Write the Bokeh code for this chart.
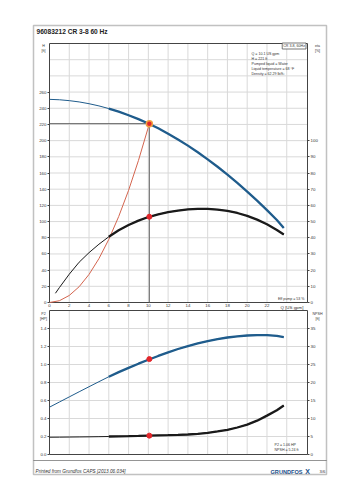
from bokeh.plotting import figure
from bokeh.models import Range1d, LinearAxis, FixedTicker, Label, BoxAnnotation, PrintfTickFormatter
from bokeh.embed import file_html
from bokeh.resources import INLINE

# ---------------- data ----------------
Q = [0, 1, 2, 3, 4, 5, 6, 7, 8, 9, 10, 11, 12, 13, 14, 15, 16, 17, 18, 19, 20, 21, 22, 23, 23.7]
H = [251, 250.5, 249.4, 247.8, 245.6, 242.9, 239.6, 235.8, 231.4, 226.5, 221.2, 215.2, 208.6,
     201.5, 193.8, 185.6, 176.9, 167.7, 158.0, 147.8, 137.1, 125.9, 114.2, 102.0, 92.0]
Q_eta = [0.6, 1, 2, 3, 4, 5, 6, 7, 8, 9, 10, 11, 12, 13, 14, 15, 16, 17, 18, 19, 20, 21, 22, 23, 23.7]
ETA = [5.7, 9.2, 17.5, 24.9, 30.8, 36.0, 40.6, 44.6, 47.9, 50.6, 52.8, 54.5, 55.8, 56.8, 57.5,
       57.8, 57.8, 57.4, 56.6, 55.3, 53.5, 51.2, 48.3, 44.8, 42.0]
P2 = [0.526, 0.583, 0.640, 0.697, 0.753, 0.809, 0.864, 0.915, 0.963, 1.009, 1.053, 1.095, 1.135,
      1.172, 1.205, 1.235, 1.260, 1.282, 1.300, 1.313, 1.322, 1.327, 1.327, 1.318, 1.305]
NPSH = [4.80, 4.82, 4.85, 4.88, 4.91, 4.95, 5.00, 5.05, 5.10, 5.16, 5.23, 5.30, 5.37, 5.45, 5.55,
        5.75, 6.00, 6.40, 6.85, 7.50, 8.30, 9.40, 10.8, 12.3, 13.6]
Q_sys = [0, 1, 2, 3, 4, 5, 6, 7, 8, 9, 10, 10.1]
H_sys = [0, 2.2, 8.7, 19.5, 34.7, 54.2, 78.0, 106.2, 138.6, 175.5, 216.7, 221.0]
Q_op, H_op, ETA_op, P2_op, NPSH_op = 10.1, 221, 53, 1.06, 5.24
Q_thick_from = 6.0

x_ticks = [0, 2, 4, 6, 8, 10, 12, 14, 16, 18, 20, 22]
x_grid = [2, 4, 6, 8, 10, 12, 14, 16, 18, 20, 22, 24]
h_ticks = [0, 20, 40, 60, 80, 100, 120, 140, 160, 180, 200, 220, 240, 260]
h_grid = [20, 40, 60, 80, 100, 120, 140, 160, 180, 200, 220, 240, 260, 280, 300]
eta_ticks = [0, 10, 20, 30, 40, 50, 60, 70, 80, 90, 100]
p2_ticks = [0, 0.2, 0.4, 0.6, 0.8, 1.0, 1.2, 1.4]
p2_grid = [0.2, 0.4, 0.6, 0.8, 1.0, 1.2, 1.4]
npsh_ticks = [0, 5, 10, 15, 20, 25, 30, 35]

Q_MAX, H_MAX, ETA_MAX, P2_MAX, NPSH_MAX = 26.1, 320, 160, 1.6, 40

# ---------------- page layout (pixels) ----------------
W, HT = 353, 500
X0, X1 = 49, 307          # chart left / right
UT, UB = 43, 302          # upper chart top / bottom
LT, LB = 310, 454         # lower chart top / bottom

FONT = "Liberation Sans"
BLUE = "#1f5c8c"
BLACK = "#1a1a1a"
RED = "#e3262b"
SYS = "#d4654f"
GRID = "#d9d9d9"
FRAME = "#444444"
THICK = 2.3


def xrange_px(v0, v1, p0, p1):
    s = (v1 - v0) / (p1 - p0)
    return Range1d(v0 - p0 * s, v0 + (W - p0) * s)


def yrange_px(v0, v1, pb, pt):
    s = (v1 - v0) / (pb - pt)
    return Range1d(v0 - (HT - pb) * s, v0 + pb * s)


p = figure(width=W, height=HT, output_backend="svg", toolbar_location=None,
           x_axis_location=None, y_axis_location=None, min_border=0,
           x_range=xrange_px(0, Q_MAX, X0, X1), y_range=yrange_px(0, H_MAX, UB, UT))
p.extra_y_ranges = {"eta": yrange_px(0, ETA_MAX, UB, UT),
                    "p2": yrange_px(0, P2_MAX, LB, LT),
                    "npsh": yrange_px(0, NPSH_MAX, LB, LT)}
p.grid.visible = False
p.outline_line_color = None
p.background_fill_color = "white"
p.border_fill_color = "white"


def style_axis(ax, ticks):
    ax.ticker = FixedTicker(ticks=ticks)
    ax.major_label_text_font = FONT
    ax.major_label_text_font_size = "4.4px"
    ax.major_label_text_color = "#333333"
    ax.axis_line_color = None
    ax.major_tick_line_color = FRAME
    ax.major_tick_out = 2
    ax.major_tick_in = 0
    ax.minor_tick_out = 0
    ax.minor_tick_in = 0
    ax.major_label_standoff = 1
    return ax


def txt(x, y, s, size, align="left", style="normal", color="#333333", **kw):
    p.add_layout(Label(x=x, y=y, x_units="canvas", y_units="canvas", text=s,
                       text_font=FONT, text_font_size=f"{size}px", text_align=align,
                       text_baseline="middle", text_font_style=style, text_color=color, **kw))


# ---------------- grids and chart frames ----------------
p.segment(x0=x_grid, x1=x_grid, y0=[0] * len(x_grid), y1=[H_MAX] * len(x_grid),
          line_color=GRID, line_width=1)
p.segment(x0=[0] * len(h_grid), x1=[Q_MAX] * len(h_grid), y0=h_grid, y1=h_grid,
          line_color=GRID, line_width=1)
p.segment(x0=x_grid, x1=x_grid, y0=[0] * len(x_grid), y1=[P2_MAX] * len(x_grid),
          line_color=GRID, line_width=1, y_range_name="p2")
p.segment(x0=[0] * len(p2_grid), x1=[Q_MAX] * len(p2_grid), y0=p2_grid, y1=p2_grid,
          line_color=GRID, line_width=1, y_range_name="p2")
p.quad(left=[0], right=[Q_MAX], bottom=[0], top=[H_MAX], fill_color=None,
       line_color=FRAME, line_width=1)
p.quad(left=[0], right=[Q_MAX], bottom=[0], top=[P2_MAX], fill_color=None,
       line_color=FRAME, line_width=1, y_range_name="p2")

# ---------------- axes ----------------
ax = style_axis(LinearAxis(fixed_location=0), x_ticks)
ax.major_tick_out = 0
p.add_layout(ax, "below")
p.add_layout(style_axis(LinearAxis(fixed_location=0), h_ticks), "left")
p.add_layout(style_axis(LinearAxis(fixed_location=Q_MAX, y_range_name="eta"), eta_ticks), "right")
ax = style_axis(LinearAxis(fixed_location=0, y_range_name="p2"), p2_ticks)
ax.formatter = PrintfTickFormatter(format="%.1f")
p.add_layout(ax, "left")
p.add_layout(style_axis(LinearAxis(fixed_location=Q_MAX, y_range_name="npsh"), npsh_ticks), "right")

k = next(i for i, q in enumerate(Q) if q >= Q_thick_from)
ke = next(i for i, q in enumerate(Q_eta) if q >= Q_thick_from)

# ---------------- upper chart ----------------
p.line([0, Q_op], [H_op, H_op], line_color="#666666", line_width=1)
p.line([Q_op, Q_op], [0, H_op], line_color="#666666", line_width=1)
p.line(Q_sys, H_sys, line_color=SYS, line_width=1)
p.line(Q, H, line_color=BLUE, line_width=1)
p.line(Q[k:], H[k:], line_color=BLUE, line_width=THICK)
p.line(Q_eta, ETA, line_color=BLACK, line_width=1, y_range_name="eta")
p.line(Q_eta[ke:], ETA[ke:], line_color=BLACK, line_width=THICK, y_range_name="eta")
p.scatter([Q_op], [ETA_op], size=5, fill_color=RED, line_color=RED, y_range_name="eta")
p.scatter([Q_op], [H_op], size=6, fill_color=RED, line_color="#f0a040", line_width=1.5)

# ---------------- lower chart ----------------
p.line(Q, P2, line_color=BLUE, line_width=1, y_range_name="p2")
p.line(Q[k:], P2[k:], line_color=BLUE, line_width=THICK, y_range_name="p2")
p.line(Q, NPSH, line_color=BLACK, line_width=1, y_range_name="npsh")
p.line(Q[k:], NPSH[k:], line_color=BLACK, line_width=THICK, y_range_name="npsh")
p.scatter([Q_op], [P2_op], size=5, fill_color=RED, line_color=RED, y_range_name="p2")
p.scatter([Q_op], [NPSH_op], size=5, fill_color=RED, line_color=RED, y_range_name="npsh")

# ---------------- texts ----------------
txt(36, 31, "96083212 CR 3-8 60 Hz", 6.6, style="bold", color="#222222")
txt(43, 45.5, "H", 3.6, align="center")
txt(43, 50, "[ft]", 3.6, align="center")
txt(317, 45.5, "eta", 3.6, align="center")
txt(317, 50, "[%]", 3.6, align="center")
p.add_layout(Label(x=305.5, y=45.5, x_units="canvas", y_units="canvas", text="CR 3-8, 60Hz",
                   text_font=FONT, text_font_size="3.6px", text_align="right",
                   text_baseline="middle", text_color="#333333", border_line_color="#555555",
                   border_line_width=0.8, background_fill_color="white", padding=1))
info = ["Q = 10.1 US gpm", "H = 221 ft", "Pumped liquid = Water",
        "Liquid temperature = 68 °F", "Density = 62.29 lb/ft³"]
for i, s in enumerate(info):
    txt(251, 53 + i * 5.2, s, 3.6)
txt(304, 298, "Eff pump = 53 %", 3.6, align="right")
txt(280, 306.5, "Q [US gpm]", 4.4)

txt(43, 313.5, "P2", 3.6, align="center")
txt(43, 318, "[HP]", 3.6, align="center")
txt(317, 313.5, "NPSH", 3.6, align="center")
txt(317, 318, "[ft]", 3.6, align="center")
txt(274, 444, "P2 = 1.06 HP", 3.6)
txt(274, 449, "NPSH = 5.24 ft", 3.6)

txt(35, 471, "Printed from Grundfos CAPS [2013.06.034]", 4.7, style="italic")
txt(302, 471, "GRUNDFOS", 5.6, align="right", style="bold", color="#1a4f8a")
txt(307, 470.5, "X", 7, align="center", style="bold", color="#1a4f8a")
txt(322, 470.5, "3/6", 4.2, align="center")

# page frame and footer rule
p.add_layout(BoxAnnotation(left=33, right=326, top=25, bottom=474,
                           left_units="canvas", right_units="canvas",
                           top_units="canvas", bottom_units="canvas",
                           fill_color=None, fill_alpha=0, line_color="#333333", line_width=1.5))
p.add_layout(BoxAnnotation(left=33, right=326, top=460, bottom=460,
                           left_units="canvas", right_units="canvas",
                           top_units="canvas", bottom_units="canvas",
                           fill_color=None, fill_alpha=0, line_color="#333333", line_width=1))

open("out.html", "w").write(file_html(p, INLINE))
